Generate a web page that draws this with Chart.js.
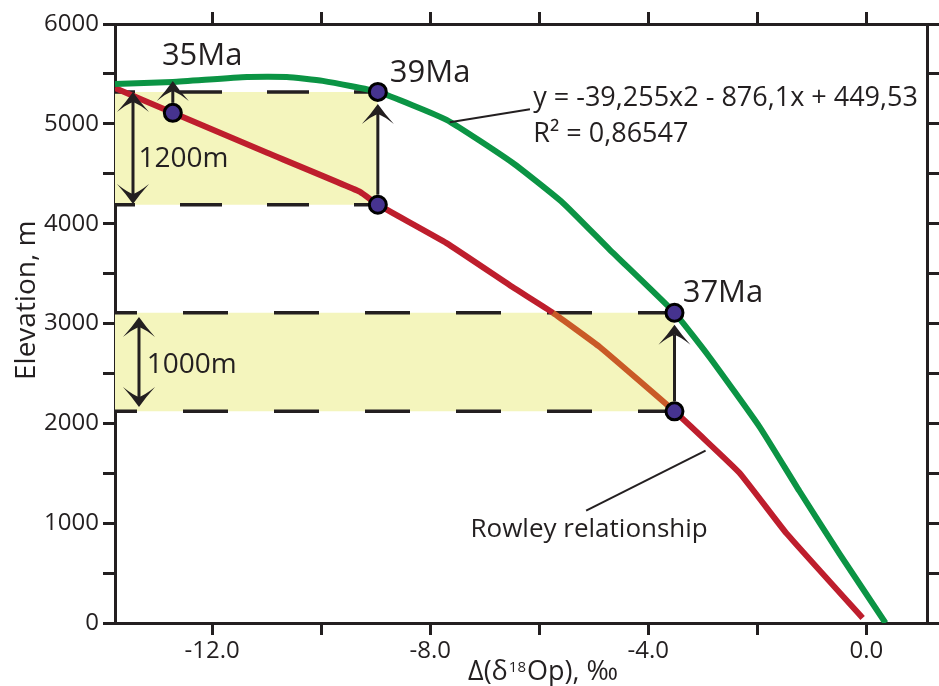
<!DOCTYPE html>
<html>
<head>
<meta charset="utf-8">
<title>Elevation vs Δ(δ18Op)</title>
<script src="https://cdn.jsdelivr.net/npm/chart.js@4.4.1/dist/chart.umd.min.js"></script>
<style>
  html, body { margin: 0; padding: 0; background: #fff; }
  #wrap { width: 939px; height: 686px; }
</style>
</head>
<body>
<div id="wrap"><canvas id="chart" width="939" height="686"></canvas></div>
<script>
// Elevation (m) against Δ(δ18Op) (‰)

// --- Data ---
// green: quadratic fit
const fitX = [-13.78, -12.72, -11.36, -10.63, -9.97, -8.96, -7.70, -6.49, -5.57, -4.71, -3.52, -2.88, -1.96, -1.23, -0.49, 0.35];
const fitY = [5400, 5420, 5470, 5470, 5430, 5320, 5040, 4610, 4210, 3740, 3108, 2665, 1965, 1322, 691, 0];

// red: Rowley relationship
const rowleyX = [-13.78, -12.72, -10.99, -9.29, -8.96, -7.70, -6.49, -5.75, -4.89, -3.52, -2.33, -1.47, -0.07];
const rowleyY = [5360, 5110, 4710, 4320, 4190, 3805, 3365, 3108, 2765, 2120, 1505, 900, 50];

// sample points (35Ma, 39Ma top/bottom, 37Ma top/bottom)
const sampleX = [-12.72, -8.96, -8.96, -3.52, -3.52];
const sampleY = [5110, 5320, 4190, 3108, 2120];

// shaded elevation bands
const bandLabels = ['1200m', '1000m'];
const bandFrom = [-13.78, -13.78];
const bandTo = [-8.96, -3.52];
const bandTop = [5320, 3108];
const bandBottom = [4190, 2120];

// axes
const xMin = -13.78, xMax = 1.12, xStep = 2, xLabelEvery = 4;
const yMin = 0, yMax = 6000, yStep = 500, yLabelEvery = 1000;

// arrows: from a sample up to its tip value
const arrowX = [-12.72, -8.96, -3.52];
const arrowFrom = [5110, 4190, 2120];
const arrowTo = [5430, 5320, 3108];
const arrowTipOnPoint = [false, true, true];

// double arrows spanning the bands
const spanX = [-13.45, -13.34];
const spanTop = [5320, 3065];
const spanBottom = [4197, 2164];

// --- Styles / annotation layout ---
const ink = '#231f20';
const fontFamily = '"Open Sans", "Noto Sans", sans-serif';
const bandFill = '#f4f5bd';
const bandDash = [[42, 45], [45, 46]];
const bandDashOffset = [22, 23];

const notes = [
    { text: '35Ma', x: -12.92, y: 5590, size: 31 },
    { text: '39Ma', x: -8.74, y: 5422, size: 31 },
    { text: '37Ma', x: -3.37, y: 3219, size: 31 },
    { text: bandLabels[0], x: -13.35, y: 4571, size: 28 },
    { text: bandLabels[1], x: -13.20, y: 2501, size: 28 },
    { text: 'y = -39,255x2 - 876,1x + 449,53', x: -6.11, y: 5177, size: 27 },
    { text: 'R² = 0,86547', x: -6.11, y: 4822, size: 27 },
    { text: 'Rowley relationship', x: -7.26, y: 865, size: 26 }
];
const leaders = [
    [-7.64, 5016, -6.17, 5146],
    [-5.14, 1125, -2.95, 1726]
];

const pts = (xs, ys) => xs.map((x, i) => ({ x: x, y: ys[i] }));

// --- Datasets ---
const datasets = [
    {
        label: 'Samples',
        data: pts(sampleX, sampleY),
        showLine: false,
        pointRadius: 8.5,
        pointBackgroundColor: '#46338f',
        pointBorderColor: '#000',
        pointBorderWidth: 3
    },
    {
        label: 'Fit',
        data: pts(fitX, fitY),
        borderColor: '#0b9444',
        borderWidth: 6,
        pointRadius: 0,
        tension: 0.15
    },
    {
        label: 'Rowley relationship',
        data: pts(rowleyX, rowleyY),
        borderColor: '#be1e2d',
        borderWidth: 6,
        pointRadius: 0,
        tension: 0.1,
        segment: {
            // orange where the curve runs through the lower band
            borderColor: c => (c.p0.parsed.y <= bandTop[1] && c.p1.parsed.y >= bandBottom[1]) ? '#c95a27' : undefined
        }
    }
];

bandTop.forEach((top, i) => {
    datasets.push({
        label: bandLabels[i] + ' top',
        data: [{ x: bandFrom[i], y: top }, { x: bandTo[i], y: top }],
        borderColor: ink,
        borderWidth: 3.5,
        borderDash: bandDash[i],
        borderDashOffset: bandDashOffset[i],
        pointRadius: 0,
        fill: false
    });
    datasets.push({
        label: bandLabels[i] + ' bottom',
        data: [{ x: bandFrom[i], y: bandBottom[i] }, { x: bandTo[i], y: bandBottom[i] }],
        borderColor: ink,
        borderWidth: 3.5,
        borderDash: bandDash[i],
        borderDashOffset: bandDashOffset[i],
        pointRadius: 0,
        backgroundColor: bandFill,
        fill: '-1'
    });
});

// --- Annotation plugin (arrows, leaders, text) ---
function arrowHead(ctx, x, y, dir) {
    // tip at (x, y); dir -1 points up, 1 points down
    ctx.save();
    ctx.translate(x, y);
    if (dir > 0) ctx.scale(1, -1);
    ctx.beginPath();
    ctx.moveTo(0, 0);
    ctx.quadraticCurveTo(-7, 10, -16, 20);
    ctx.quadraticCurveTo(-6, 12, 0, 10);
    ctx.quadraticCurveTo(6, 12, 16, 20);
    ctx.quadraticCurveTo(7, 10, 0, 0);
    ctx.closePath();
    ctx.fill();
    ctx.restore();
}

function vline(ctx, x, y1, y2) {
    ctx.beginPath();
    ctx.moveTo(x, y1);
    ctx.lineTo(x, y2);
    ctx.stroke();
}

const annotations = {
    id: 'annotations',
    afterDatasetsDraw(chart) {
        const ctx = chart.ctx;
        const xs = chart.scales.x;
        const ys = chart.scales.y;
        const r = 10;

        ctx.save();
        ctx.strokeStyle = ink;
        ctx.fillStyle = ink;

        // leader lines
        ctx.lineWidth = 2;
        leaders.forEach(l => {
            ctx.beginPath();
            ctx.moveTo(xs.getPixelForValue(l[0]), ys.getPixelForValue(l[1]));
            ctx.lineTo(xs.getPixelForValue(l[2]), ys.getPixelForValue(l[3]));
            ctx.stroke();
        });

        // arrows from samples
        ctx.lineWidth = 3;
        arrowX.forEach((x, i) => {
            const px = xs.getPixelForValue(x);
            const start = ys.getPixelForValue(arrowFrom[i]) - r;
            const tip = ys.getPixelForValue(arrowTo[i]) + (arrowTipOnPoint[i] ? r + 2 : 0);
            vline(ctx, px, start, tip + 10);
            arrowHead(ctx, px, tip, -1);
        });

        // double arrows across bands
        spanX.forEach((x, i) => {
            const px = xs.getPixelForValue(x);
            const top = ys.getPixelForValue(spanTop[i]);
            const bottom = ys.getPixelForValue(spanBottom[i]);
            vline(ctx, px, top + 10, bottom - 10);
            arrowHead(ctx, px, top, -1);
            arrowHead(ctx, px, bottom, 1);
        });

        // text notes
        ctx.textAlign = 'left';
        ctx.textBaseline = 'alphabetic';
        notes.forEach(n => {
            ctx.font = n.size + 'px ' + fontFamily;
            ctx.fillText(n.text, xs.getPixelForValue(n.x), ys.getPixelForValue(n.y));
        });

        // axis titles
        const area = chart.chartArea;
        ctx.font = '28px ' + fontFamily;
        ctx.save();
        ctx.translate(area.left - 80, area.bottom - 243);
        ctx.rotate(-Math.PI / 2);
        ctx.fillText('Elevation, m', 0, 0);
        ctx.restore();

        let tx = area.left + 353;
        const ty = area.bottom + 57;
        ctx.font = '27px ' + fontFamily;
        ctx.fillText('Δ(δ', tx, ty);
        tx += ctx.measureText('Δ(δ').width + 1;
        ctx.font = '15px ' + fontFamily;
        ctx.fillText('18', tx, ty - 8);
        tx += ctx.measureText('18').width + 1;
        ctx.font = '27px ' + fontFamily;
        ctx.fillText('Op), ‰', tx, ty);

        ctx.restore();
    }
};

// --- Scales ---
const gridStyle = {
    drawOnChartArea: false,
    drawTicks: true,
    tickLength: 12,
    tickWidth: 3,
    tickColor: ink,
    lineWidth: 3,
    color: ink
};
const borderStyle = { display: true, color: ink, width: 3 };
const tickFont = { size: 24, family: fontFamily };

Chart.defaults.font.family = fontFamily;
Chart.defaults.color = ink;

new Chart(document.getElementById('chart'), {
    type: 'line',
    data: { datasets: datasets },
    plugins: [annotations],
    options: {
        responsive: false,
        devicePixelRatio: 1,
        animation: false,
        layout: { padding: 0 },
        plugins: {
            legend: { display: false },
            tooltip: { enabled: false }
        },
        scales: {
            x: {
                type: 'linear',
                position: 'bottom',
                min: xMin,
                max: xMax,
                grid: gridStyle,
                border: borderStyle,
                ticks: {
                    stepSize: xStep,
                    includeBounds: false,
                    autoSkip: false,
                    maxRotation: 0,
                    padding: 2,
                    font: tickFont,
                    color: ink,
                    callback: v => (v % xLabelEvery === 0 ? v.toFixed(1) : '')
                },
                afterFit: s => { s.height = 63; }
            },
            x2: {
                type: 'linear',
                position: 'top',
                min: xMin,
                max: xMax,
                grid: gridStyle,
                border: borderStyle,
                ticks: { stepSize: xStep, includeBounds: false, display: false },
                afterFit: s => { s.height = 24; }
            },
            y: {
                type: 'linear',
                position: 'left',
                min: yMin,
                max: yMax,
                grid: gridStyle,
                border: borderStyle,
                ticks: {
                    stepSize: yStep,
                    autoSkip: false,
                    padding: 4,
                    font: tickFont,
                    color: ink,
                    callback: v => (v % yLabelEvery === 0 ? String(v) : '')
                },
                afterFit: s => { s.width = 115; }
            },
            y2: {
                type: 'linear',
                position: 'right',
                min: yMin,
                max: yMax,
                grid: gridStyle,
                border: borderStyle,
                ticks: { stepSize: yStep, display: false },
                afterFit: s => { s.width = 11; }
            }
        }
    }
});
</script>
</body>
</html>
